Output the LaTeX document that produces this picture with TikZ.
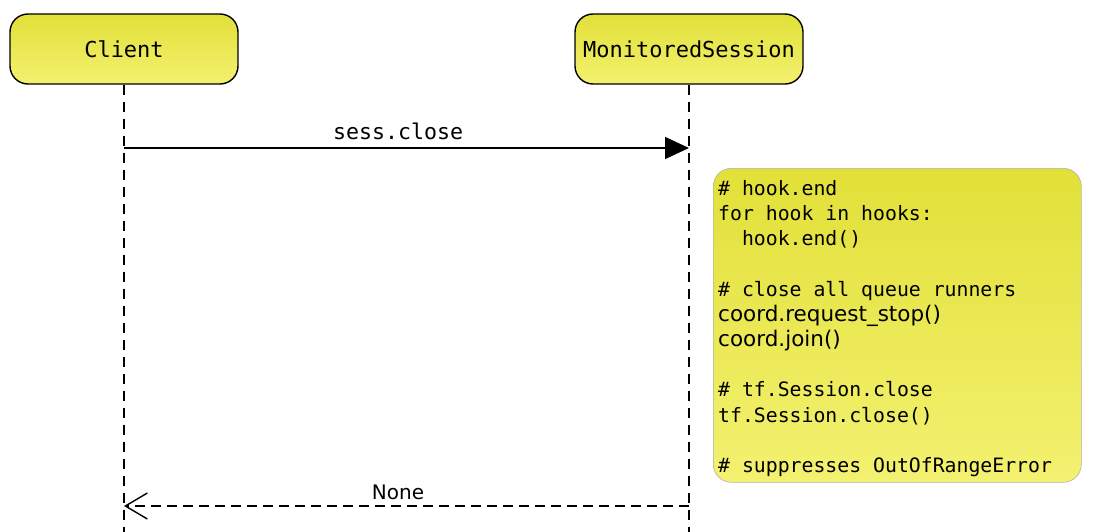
\documentclass[tikz,border=0pt]{standalone}
\usepackage{fontspec}
\setmonofont{DejaVu Sans Mono}
\setsansfont{DejaVu Sans}
\usetikzlibrary{arrows.meta,shadings}
\definecolor{ytop}{RGB}{226,224,56}
\definecolor{ybot}{RGB}{243,241,112}
\newfontfamily\notemono{DejaVu Sans Mono}
\newfontfamily\notesans{DejaVu Sans}
\tikzset{
  actor/.style={draw=black, line width=1.4pt, rounded corners=18pt, top color=ytop, bottom color=ybot,
    minimum width=228pt, minimum height=70pt, inner sep=0pt, font=\fontsize{22}{26}\selectfont\ttfamily},
  lifeline/.style={line width=1.5pt, dash pattern=on 10pt off 7pt},
  msg/.style={line width=1.4pt, -{Triangle[length=24pt,width=22pt]}},
  ret/.style={line width=1.4pt, dash pattern=on 10pt off 6pt, -{Straight Barb[length=22pt,width=26pt,line width=1.4pt]}},
  notebox/.style={draw=black!30, line width=0.6pt, rounded corners=18pt, top color=ytop, bottom color=ybot,
    minimum width=368pt, minimum height=314pt, anchor=north west, inner sep=0pt},
  notetext/.style={anchor=north west, inner sep=0pt, align=left, font=\fontsize{19.8}{25.2}\selectfont\notemono},
  lbl/.style={font=\fontsize{21.6}{26}\selectfont\ttfamily, inner sep=0pt}
}
\begin{document}
\begin{tikzpicture}[x=1pt,y=-1pt]
\useasboundingbox (0,0) rectangle (1094,532);
\node[actor] (client) at (124,49) {Client};
\node[actor] (ms) at (689,49) {MonitoredSession};
\coordinate (cb) at (124,532);
\coordinate (mb) at (689,532);
\draw[lifeline] (client.south) -- (cb);
\draw[lifeline] (ms.south) -- (mb);
\coordinate (c1) at (124,148);
\coordinate (m1) at (689,148);
\draw[msg] (c1) -- (m1) node[lbl, pos=0.485, above=7pt] {sess.close};
\node[notebox] (note) at (713,168) {};
\node[notetext] (notetxt) at (718,180) {%
\# hook.end\\
for hook in hooks:\\
\ \ hook.end()\\
\mbox{}\\
\# close all queue runners\\
{\fontsize{21.5}{25.2}\selectfont\notesans coord.request\_stop()}\\
{\fontsize{21.5}{25.2}\selectfont\notesans coord.join()}\\
\mbox{}\\
\# tf.Session.close\\
tf.Session.close()\\
\mbox{}\\
\# suppresses OutOfRangeError};
\coordinate (m2) at (689,506);
\coordinate (c2) at (124,506);
\draw[ret] (m2) -- (c2) node[lbl, pos=0.515, above=6pt, font=\fontsize{20}{24}\selectfont\sffamily] {None};
\end{tikzpicture}
\end{document}
